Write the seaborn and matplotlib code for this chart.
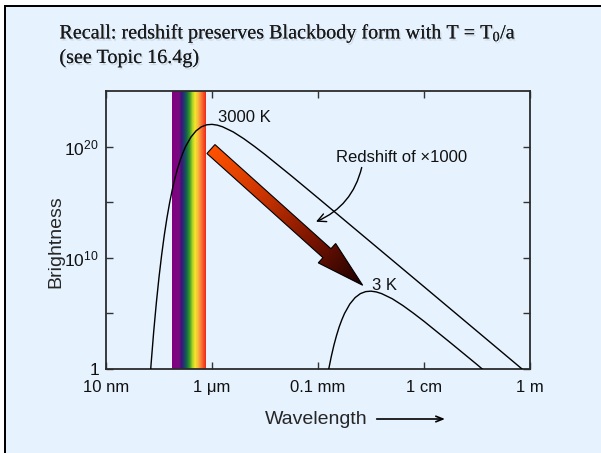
import numpy as np
import pandas as pd
import matplotlib
matplotlib.use("Agg")
import matplotlib.pyplot as plt
import seaborn as sns
from matplotlib.colors import LinearSegmentedColormap
from matplotlib.patches import Polygon, Rectangle
from matplotlib.ticker import NullLocator, FixedLocator, NullFormatter
import matplotlib.patheffects as pe

# ---------------- data ----------------
# log10 wavelength [m] and log10 brightness for the two blackbody curves
log_lam_3000 = [-7.20, -7.15, -7.10, -7.05, -7.00, -6.95, -6.90, -6.85, -6.80, -6.75,
                -6.70, -6.65, -6.60, -6.55, -6.50, -6.40, -6.30, -6.20, -6.10, -6.00,
                -5.90, -5.80, -5.60, -5.40, -5.20, -5.00, -4.50, -4.00, -3.00, -2.00,
                -1.00, 0.00]
log_B_3000 = [-2.93, 0.41, 3.36, 5.96, 8.25, 10.26, 12.04, 13.59, 14.94, 16.11,
              17.14, 18.02, 18.79, 19.43, 19.99, 20.84, 21.42, 21.78, 21.96, 22.00,
              21.93, 21.78, 21.32, 20.71, 20.02, 19.29, 17.36, 15.38, 11.39, 7.40,
              3.40, -0.60]

log_lam_3 = [-3.85, -3.80, -3.75, -3.70, -3.65, -3.60, -3.55, -3.50, -3.40, -3.30,
             -3.20, -3.10, -3.00, -2.90, -2.80, -2.60, -2.40, -2.20, -2.00, -1.50,
             -1.00, -0.80]
log_B_3 = [-1.41, -0.06, 1.11, 2.14, 3.02, 3.79, 4.43, 4.99, 5.84, 6.42,
           6.78, 6.96, 7.00, 6.93, 6.78, 6.32, 5.71, 5.02, 4.29, 2.36,
           0.40, -0.41]

curve_labels = ["3000 K", "3 K"]

x_tick_vals = [1e-8, 1e-6, 1e-4, 1e-2, 1.0]
x_tick_labels = ["10 nm", "1 \u03bcm", "0.1 mm", "1 cm", "1 m"]
y_tick_vals = [1.0, 1e10, 1e20]
y_tick_labels = ["1", r"$\mathdefault{10^{10}}$", r"$\mathdefault{10^{20}}$"]
y_minor_vals = [1e5, 1e15]

# visible band (log10 wavelength edges) and big redshift arrow (tail, tip)
band_log_lam = [-6.755, -6.113]
arrow_tail = (-6.02, 19.78)
arrow_tip = (-3.157, 7.53)

# ---------------- style ----------------
sns.set_style("ticks")
plt.rcParams["font.family"] = ["Liberation Sans", "DejaVu Sans"]
plt.rcParams["text.color"] = "#111111"
plt.rcParams["mathtext.sup"] if False else None

W, H = 601, 453
BG = "#E6F2FE"
fig = plt.figure(figsize=(W / 100, H / 100), dpi=100)
fig.patch.set_facecolor(BG)

# white margin + black frame on the left / top
fig.patches.append(Rectangle((0, 0), 4 / W, 1, transform=fig.transFigure,
                             facecolor="white", edgecolor="none", zorder=0))
fig.patches.append(Rectangle((0, (H - 5) / H), 1, 5 / H, transform=fig.transFigure,
                             facecolor="white", edgecolor="none", zorder=0))
fig.patches.append(Rectangle((4 / W, 0), 2 / W, (H - 5) / H, transform=fig.transFigure,
                             facecolor="black", edgecolor="none", zorder=1))
fig.patches.append(Rectangle((4 / W, (H - 7) / H), 1, 2 / H, transform=fig.transFigure,
                             facecolor="black", edgecolor="none", zorder=1))

ax = fig.add_axes([106 / W, (H - 369) / H, 424 / W, 278 / H])
ax.set_facecolor("none")
ax.set_xscale("log")
ax.set_yscale("log")

# rainbow band
rainbow = LinearSegmentedColormap.from_list("vis", [
    (0.00, "#800080"), (0.20, "#7A0A80"), (0.28, "#3C1478"), (0.36, "#1E3C6E"),
    (0.43, "#15644A"), (0.52, "#3C9A28"), (0.60, "#A8D028"), (0.68, "#F5E628"),
    (0.78, "#F8B040"), (0.88, "#F87030"), (1.00, "#F02818")])
nb = 120
bx = np.logspace(band_log_lam[0], band_log_lam[1], nb + 1)
by = np.array([1.0, 1e25])
ax.pcolormesh(bx, by, np.linspace(0, 1, nb)[None, :], cmap=rainbow,
              shading="flat", zorder=1, rasterized=True)

# curves
df = pd.DataFrame({
    "lam": np.concatenate([10.0 ** np.array(log_lam_3000), 10.0 ** np.array(log_lam_3)]),
    "B": np.concatenate([10.0 ** np.array(log_B_3000), 10.0 ** np.array(log_B_3)]),
    "T": [curve_labels[0]] * len(log_lam_3000) + [curve_labels[1]] * len(log_lam_3),
})
sns.lineplot(data=df, x="lam", y="B", hue="T", palette=["black", "black"],
             sort=False, estimator=None, legend=False, lw=1.0, ax=ax, zorder=3)

ax.set_xlim(1e-8, 1.0)
ax.set_ylim(1.0, 1e25)
ax.set_xticks(x_tick_vals, labels=x_tick_labels)
ax.xaxis.set_minor_locator(NullLocator())
ax.xaxis.set_minor_formatter(NullFormatter())
ax.set_yticks(y_tick_vals, labels=y_tick_labels)
ax.yaxis.set_minor_locator(FixedLocator(y_minor_vals))
ax.yaxis.set_minor_formatter(NullFormatter())
ax.tick_params(which="both", direction="in", top=True, right=True, length=5,
               width=1, color="#333333")
ax.tick_params(axis="x", labelsize=12, pad=8, labelcolor="#111111")
ax.tick_params(axis="y", labelsize=12.5, pad=5, labelcolor="#111111")
for s in ax.spines.values():
    s.set_color("#2b2b2b")
    s.set_linewidth(1.3)

ax.set_xlabel("Wavelength", fontsize=14)
ax.xaxis.set_label_coords((316.5 - 106) / 424, (369 - 419) / 278)
ax.xaxis.label.set_verticalalignment("center")
ax.set_ylabel("Brightness", fontsize=14)
ax.yaxis.set_label_coords((56 - 106) / 424, (369 - 241.5) / 278)
ax.yaxis.label.set_verticalalignment("center")

# ---------------- overlay in pixel coordinates (y down) ----------------
ov = fig.add_axes([0, 0, 1, 1], zorder=5)
ov.set_xlim(0, W)
ov.set_ylim(H, 0)
ov.axis("off")
ov.patch.set_alpha(0)


def to_ov(lx, ly):
    pix = ax.transData.transform((10.0 ** lx, 10.0 ** ly))
    return ov.transData.inverted().transform(pix)


tail = np.array(to_ov(*arrow_tail))
tip = np.array(to_ov(*arrow_tip))
vec = tip - tail
length = np.hypot(*vec)
u = vec / length
n = np.array([-u[1], u[0]])
w1, w2, L = 6.0, 13.0, 48.0
base = tip - u * L
verts = [tail + n * w1, base + n * w1, base + n * w2, tip,
         base - n * w2, base - n * w1, tail - n * w1]
poly = Polygon(verts, closed=True, facecolor="none", edgecolor="black",
               lw=0.8, zorder=7)
ov.add_patch(poly)

arrow_cmap = LinearSegmentedColormap.from_list(
    "arr", ["#FF5200", "#CC3500", "#7A1400", "#1A0000"])
vx = np.array(verts)
x0, x1 = vx[:, 0].min() - 2, vx[:, 0].max() + 2
y0, y1 = vx[:, 1].min() - 2, vx[:, 1].max() + 2
gx = np.linspace(x0, x1, 300)
gy = np.linspace(y0, y1, 300)
GX, GY = np.meshgrid(gx, gy)
tt = np.clip(((GX - tail[0]) * u[0] + (GY - tail[1]) * u[1]) / length, 0, 1)
img = ov.imshow(tt, extent=[x0, x1, y0, y1], origin="lower", cmap=arrow_cmap,
                vmin=0, vmax=1, aspect="auto", interpolation="bilinear", zorder=6)
img.set_clip_path(poly)
ov.set_xlim(0, W)
ov.set_ylim(H, 0)

# labels on curves
ov.text(218, 118, curve_labels[0], fontsize=12, va="center", ha="left")
ov.text(372, 286, curve_labels[1], fontsize=12, va="center", ha="left")

# redshift annotation
ov.text(335.5, 157, "Redshift of \u00d71000", fontsize=12, va="center", ha="left")
ov.annotate("", xy=(316, 221.7), xytext=(361.7, 167.5),
            arrowprops=dict(arrowstyle="->,head_length=0.6,head_width=0.3",
                            connectionstyle="arc3,rad=-0.25", color="black",
                            lw=1.0, shrinkA=0, shrinkB=0))

# wavelength arrow
ov.annotate("", xy=(445, 419), xytext=(376.7, 419),
            arrowprops=dict(arrowstyle="->,head_length=0.5,head_width=0.2",
                            color="black", lw=1.2, shrinkA=0, shrinkB=0))

# title
shadow = [pe.withSimplePatchShadow(offset=(1, -1.5), shadow_rgbFace="#7a8899", alpha=0.25),
          pe.Normal()]
ov.text(59.4, 38.5, r"Recall: redshift preserves Blackbody form with T = $\mathdefault{T_{0}}$/a",
        fontsize=14.5, family=["Liberation Serif", "DejaVu Serif"], va="baseline",
        ha="left", color="#1a1a1a", path_effects=shadow)
ov.text(59.4, 63, "(see Topic 16.4g)", fontsize=14.5,
        family=["Liberation Serif", "DejaVu Serif"], va="baseline", ha="left",
        color="#1a1a1a", path_effects=shadow)

fig.savefig("out.png", dpi=100, facecolor=fig.get_facecolor())
